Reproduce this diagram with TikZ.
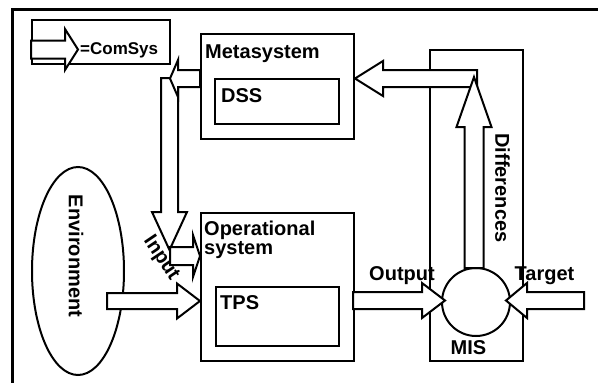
\documentclass[tikz,border=0pt]{standalone}
\usepackage{fontspec}
\setmainfont{Liberation Sans}
\usetikzlibrary{calc,shapes.geometric}

\tikzset{
  box/.style={draw, line width=2pt, fill=white, rectangle, inner sep=0pt, anchor=north west},
  lbl/.style={inner sep=0pt, font=\bfseries\fontsize{20}{24}\selectfont},
  headlen/.store in=\headlen, shafthw/.store in=\shafthw, barbhw/.store in=\barbhw,
  headlen=23pt, shafthw=8.5pt, barbhw=17.5pt,
  fat/.style={draw, line width=2pt, fill=white, line join=miter,
    to path={
      ($(\tikztotarget)!\headlen!(\tikztostart)$) coordinate (fb)
      ($(\tikztostart)!\shafthw!90:(\tikztotarget)$)
      -- ($(fb)!\shafthw!90:(\tikztotarget)$)
      -- ($(fb)!\barbhw!90:(\tikztotarget)$)
      -- (\tikztotarget)
      -- ($(fb)!\barbhw!-90:(\tikztotarget)$)
      -- ($(fb)!\shafthw!-90:(\tikztotarget)$)
      -- ($(\tikztostart)!\shafthw!-90:(\tikztotarget)$)
      -- cycle}},
}

\begin{document}
\begin{tikzpicture}[x=1pt,y=-1pt]
  \useasboundingbox (0,0) rectangle (598,383);

  % frame
  \draw[line width=3pt] (12,383) -- (12,9) -- (598,9);

  % boxes
  \node[box, minimum width=138pt, minimum height=44pt] (legend) at (31,19) {};
  \node[draw, line width=2pt, ellipse, minimum width=92pt, minimum height=208pt] (env) at (78,271) {};
  \node[box, minimum width=153pt, minimum height=105pt] (meta) at (200,33) {};
  \node[box, minimum width=124pt, minimum height=45pt] (dss) at (214,78) {};
  \node[box, minimum width=153pt, minimum height=148pt] (ops) at (200,212) {};
  \node[box, minimum width=123pt, minimum height=59pt] (tps) at (215,286) {};
  \node[box, minimum width=93pt, minimum height=311pt] (mis) at (429,49) {};
  \node[draw, line width=2pt, fill=white, circle, minimum size=68pt] (cmp) at (476,302) {};

  % arrow ends
  \coordinate (lgs) at (31,49.5);   \coordinate (lgt) at (78,49.5);
  \coordinate (mout) at (200,78.5); \coordinate (mtip) at (170,78.5);
  \coordinate (dtop) at (169.5,78); \coordinate (dtip) at (169.5,250);
  \coordinate (ins) at (170,256);   \coordinate (intip) at (200,256);
  \coordinate (envs) at (107,301);  \coordinate (envt) at (200,301);
  \coordinate (outs) at (353,300.5); \coordinate (outt) at (445,300.5);
  \coordinate (tgs) at (584,300.5); \coordinate (tgt) at (506,300.5);
  \coordinate (fbs) at (477,78.5);  \coordinate (fbt) at (355,78.5);
  \coordinate (dfs) at (474,268);   \coordinate (dft) at (474,77);

  % ComSys arrows
  \path[fat, headlen=13pt, shafthw=9pt, barbhw=20.5pt] (lgs) to (lgt);
  \path[fat, headlen=38pt] (dtop) to (dtip);
  \path[fat, headlen=8pt, barbhw=18.5pt] (mout) to (mtip);
  \path[fat, headlen=7pt, shafthw=9pt, barbhw=21pt] (ins) to (intip);
  \path[fat, shafthw=8pt] (envs) to (envt);
  \path[fat] (outs) to (outt);
  \path[fat, headlen=21pt] (tgs) to (tgt);
  \path[fat, headlen=28pt] (fbs) to (fbt);
  \path[fat, headlen=50pt, shafthw=9.5pt] (dfs) to (dft);

  % labels
  \node[lbl, anchor=base west, font=\bfseries\fontsize{17}{20}\selectfont] (comsys) at (80,54) {=ComSys};
  \node[lbl, anchor=base west] (metat) at (205,58) {Metasystem};
  \node[lbl, anchor=base west] (dsst) at (221,102) {DSS};
  \node[lbl, anchor=base west] (opst) at (204,235) {Operational};
  \node[lbl, anchor=base west] (opst2) at (204,254) {system};
  \node[lbl, anchor=base west] (tpst) at (220,309) {TPS};
  \node[lbl, anchor=base] (mist) at (468.5,354) {MIS};
  \node[lbl, anchor=base] (outl) at (402,280) {Output};
  \node[lbl, anchor=base] (tgl) at (544.5,280) {Target};
  \node[lbl, rotate=-90] (envl) at (76,256) {Environment};
  \node[lbl, rotate=-90] (difl) at (502.5,188) {Differences};
  \node[lbl, rotate=-56] (inl) at (161,258) {Input};
\end{tikzpicture}
\end{document}
